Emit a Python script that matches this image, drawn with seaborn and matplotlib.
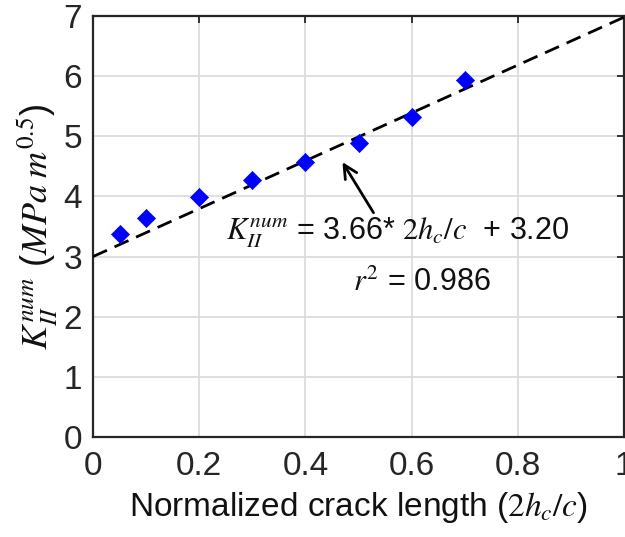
import matplotlib
matplotlib.use("Agg")
import matplotlib.pyplot as plt
import seaborn as sns
import pandas as pd

# data
crack_len = [0.05, 0.1, 0.2, 0.3, 0.4, 0.5, 0.6, 0.7]
k_num = [3.38, 3.64, 3.99, 4.28, 4.57, 4.89, 5.32, 5.94]
fit_x = [0.0, 1.0]
fit_y = [3.0, 6.98]
x_ticks = [0, 0.2, 0.4, 0.6, 0.8, 1]
x_tick_labels = ["0", "0.2", "0.4", "0.6", "0.8", "1"]
y_ticks = [0, 1, 2, 3, 4, 5, 6, 7]

sns.set_style("white")
plt.rcParams["font.family"] = ["Liberation Sans", "DejaVu Sans"]
plt.rcParams["mathtext.fontset"] = "stix"

fig = plt.figure(figsize=(6.25, 5.37), dpi=100)
ax = fig.add_axes([93 / 625, 100 / 537, 531 / 625, 421 / 537])

pts = pd.DataFrame({"x": crack_len, "y": k_num})
fit = pd.DataFrame({"x": fit_x, "y": fit_y})

sns.lineplot(data=fit, x="x", y="y", ax=ax, color="black", lw=2.0,
             dashes=False, zorder=3)
ax.lines[-1].set_dashes((5.5, 3))
sns.scatterplot(data=pts, x="x", y="y", ax=ax, marker="D", s=85,
                color="#0000ff", edgecolor="#0000ff", linewidth=0.5, zorder=4)

ax.set_xlim(0, 1)
ax.set_ylim(0, 7)
ax.set_xticks(x_ticks)
ax.set_xticklabels(x_tick_labels)
ax.set_yticks(y_ticks)
ax.grid(True, color="#d9d9d9", lw=1.2)
ax.set_axisbelow(True)
ax.tick_params(direction="in", length=5, width=1.3, color="#262626",
               labelsize=24, labelcolor="#262626", top=True, right=True)
ax.tick_params(axis="x", pad=10)
ax.tick_params(axis="y", pad=8)
for s in ax.spines.values():
    s.set_color("#262626")
    s.set_linewidth(1.6)
    s.set_visible(True)

ax.set_xlabel(r"Normalized crack length ($2h_c/c$)", fontsize=24,
              color="#111111", labelpad=6)
ax.set_ylabel(r"$K_{II}^{num}$ ($MPa\;m^{0.5}$)", fontsize=26,
              color="#111111", labelpad=2)

ax.annotate("", xy=(0.467, 4.61), xytext=(0.531, 3.69),
            arrowprops=dict(arrowstyle="->", color="black", lw=2,
                            mutation_scale=24), zorder=5)
ax.text(0.574, 3.39, r"$K_{II}^{num}$ = 3.66* $2h_c/c$  + 3.20",
        fontsize=22, ha="center", va="center", color="#111111")
ax.text(0.62, 2.56, r"$r^2$ = 0.986", fontsize=22, ha="center",
        va="center", color="#111111")

fig.savefig("out.png", dpi=100)
